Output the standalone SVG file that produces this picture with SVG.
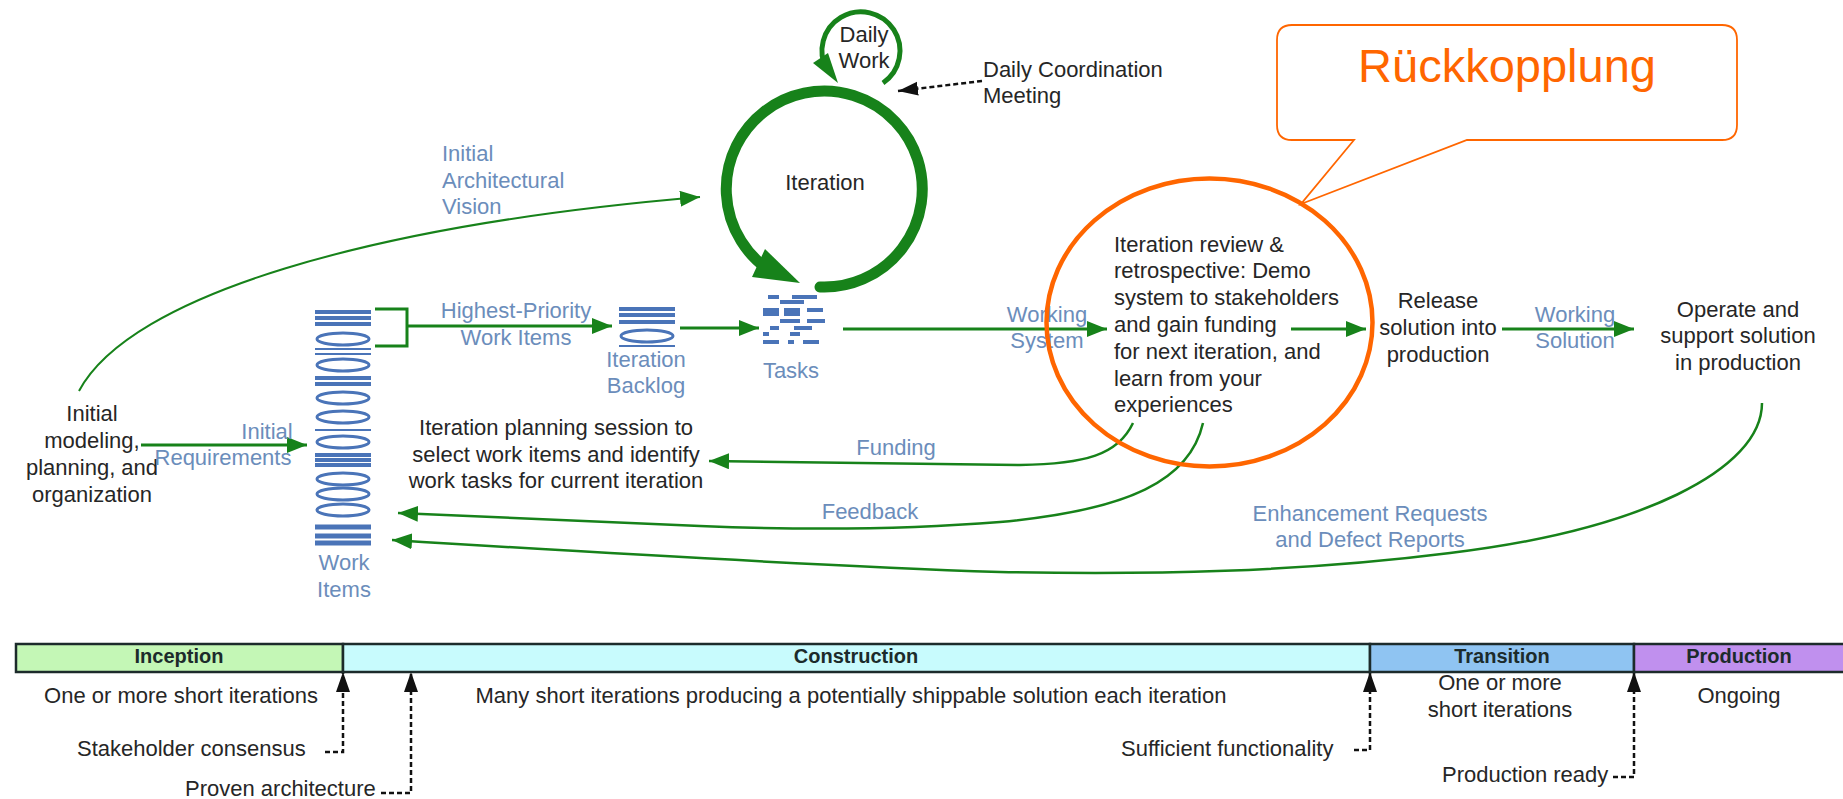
<svg xmlns="http://www.w3.org/2000/svg" width="1843" height="799" viewBox="0 0 1843 799">
<style>
text{font-family:"Liberation Sans",Arial,sans-serif;font-size:22px;fill:#262626}
.b{fill:#6b8dbb}
.m{text-anchor:middle}
.g{fill:none;stroke:#17821a;stroke-width:3}
.t{fill:none;stroke:#17821a;stroke-width:2}
.d{fill:none;stroke:#111;stroke-width:2.5;stroke-dasharray:5 3}
.bar{fill:none;stroke:#4a74b8;stroke-width:4}
.bart{fill:none;stroke:#4a74b8;stroke-width:2}
.el{fill:none;stroke:#4a74b8;stroke-width:3}
.ph{stroke:#1c2b2b;stroke-width:2.5}
.ph-l{font-weight:bold;font-size:20px;text-anchor:middle;fill:#1c2b2b}
</style>
<defs>
<marker id="ag" markerUnits="userSpaceOnUse" markerWidth="20" markerHeight="16" refX="20" refY="8" orient="auto"><path d="M0 0L20 8L0 16Z" fill="#17821a"/></marker>
<marker id="ak" markerUnits="userSpaceOnUse" markerWidth="20" markerHeight="16" refX="20" refY="8" orient="auto"><path d="M0 1L20 8L0 15Z" fill="#111"/></marker>
</defs>
<rect width="1843" height="799" fill="#fff"/>

<g id="connectors">
<path class="t" marker-end="url(#ag)" d="M79 391C130 295 370 225 700 197"/>
<path class="g" marker-end="url(#ag)" d="M141 445H307"/>
<path class="t" style="stroke-width:3" d="M375 309H407V346H375"/>
<path class="g" marker-end="url(#ag)" d="M407 326H612"/>
<path class="g" marker-end="url(#ag)" d="M680 328H759"/>
<path class="g" marker-end="url(#ag)" d="M843 329H1107"/>
<path class="g" marker-end="url(#ag)" d="M1291 329H1366"/>
<path class="g" marker-end="url(#ag)" d="M1502 329H1634"/>
<path class="t" style="stroke-width:2.5" marker-end="url(#ag)" d="M1133 423C1118 455 1085 464 1020 465L709 461"/>
<path class="t" style="stroke-width:2.5" marker-end="url(#ag)" d="M1203 423C1190 480 1130 510 1000 522C900 530 800 530 700 526L398 513"/>
<path class="t" style="stroke-width:2.5" marker-end="url(#ag)" d="M1762 403C1762 470 1640 530 1450 553C1300 572 1150 575 1000 572C800 565 600 553 392 540"/>
<path d="M820 287A98 98 0 1 0 772 272" fill="none" stroke="#17821a" stroke-width="11" stroke-linecap="round"/>
<path d="M752 277L765 249L800 283Z" fill="#17821a"/>
<path d="M883 83A39 39 0 1 0 827 70" fill="none" stroke="#17821a" stroke-width="5"/>
<path d="M813 63L828 53L838 83Z" fill="#17821a"/>
<path class="d" marker-end="url(#ak)" d="M982 81L898 91"/>
<path class="d" marker-end="url(#ak)" d="M325 752H343V672"/>
<path class="d" marker-end="url(#ak)" d="M381 793H411V672"/>
<path class="d" marker-end="url(#ak)" d="M1354 750H1370V672"/>
<path class="d" marker-end="url(#ak)" d="M1613 777H1634V672"/>
</g>

<g id="work-items">
<path class="bar" d="M315 312H371M315 318H371M315 324H371M315 378H371M315 384H371M315 455H371M315 460H371M315 465H371"/>
<path class="bart" d="M315 349H371M315 354H371M315 430H371"/>
<path class="bar" style="stroke-width:5" d="M315 527H371M315 536H371M315 543H371"/>
<ellipse class="el" cx="343" cy="339" rx="26" ry="6"/><ellipse class="el" cx="343" cy="365" rx="26" ry="6"/>
<ellipse class="el" cx="343" cy="398" rx="26" ry="6"/><ellipse class="el" cx="343" cy="417" rx="26" ry="6"/>
<ellipse class="el" cx="343" cy="442" rx="26" ry="6"/><ellipse class="el" cx="343" cy="479" rx="26" ry="6"/>
<ellipse class="el" cx="343" cy="494" rx="26" ry="6"/><ellipse class="el" cx="343" cy="510" rx="26" ry="6"/>
<text class="b m" x="344" y="570">Work</text><text class="b m" x="344" y="597">Items</text>
</g>

<g id="iteration-backlog">
<path class="bar" d="M619 309H675M619 315H675M619 322H675"/>
<ellipse class="el" cx="647" cy="336" rx="26" ry="6"/>
<path class="bart" d="M619 346H675"/>
<text class="b m" x="646" y="367">Iteration</text><text class="b m" x="646" y="393">Backlog</text>
</g>

<g id="tasks">
<path class="bar" d="M768 297H779M792 297H817M780 302H804M763 310H779M784 310H800M807 310H823M763 314H779M784 314H800M780 321H800M807 321H825M770 328H779M794 328H812M763 334H769M790 334H800M763 342H779M788 342H794M803 342H819"/>
<text class="b m" x="791" y="378">Tasks</text>
</g>

<g id="iteration"><text class="m" x="825" y="190">Iteration</text></g>
<g id="daily-work"><text class="m" x="864" y="42">Daily</text><text class="m" x="864" y="68">Work</text></g>
<g id="daily-meeting"><text x="983" y="77">Daily Coordination</text><text x="983" y="103">Meeting</text></g>
<g id="initial-vision"><text class="b" x="442" y="161">Initial</text><text class="b" x="442" y="188">Architectural</text><text class="b" x="442" y="214">Vision</text></g>
<g id="initial-modeling"><text class="m" x="92" y="421">Initial</text><text class="m" x="92" y="448">modeling,</text><text class="m" x="92" y="475">planning, and</text><text class="m" x="92" y="502">organization</text></g>
<g id="initial-req"><text class="b m" x="267" y="439">Initial</text><text class="b m" x="223" y="465">Requirements</text></g>
<g id="highest"><text class="b m" x="516" y="318">Highest-Priority</text><text class="b m" x="516" y="345">Work Items</text></g>
<g id="planning"><text class="m" x="556" y="435">Iteration planning session to</text><text class="m" x="556" y="462">select work items and identify</text><text class="m" x="556" y="488">work tasks for current iteration</text></g>
<g id="funding"><text class="b m" x="896" y="455">Funding</text></g>
<g id="feedback"><text class="b m" x="870" y="519">Feedback</text></g>
<g id="enhancement"><text class="b m" x="1370" y="521">Enhancement Requests</text><text class="b m" x="1370" y="547">and Defect Reports</text></g>
<g id="working-system"><text class="b m" x="1047" y="322">Working</text><text class="b m" x="1047" y="348">System</text></g>
<g id="review"><text x="1114" y="252">Iteration review &amp;</text><text x="1114" y="278">retrospective: Demo</text><text x="1114" y="305">system to stakeholders</text><text x="1114" y="332">and gain funding</text><text x="1114" y="359">for next iteration, and</text><text x="1114" y="386">learn from your</text><text x="1114" y="412">experiences</text></g>
<g id="release"><text class="m" x="1438" y="308">Release</text><text class="m" x="1438" y="335">solution into</text><text class="m" x="1438" y="362">production</text></g>
<g id="working-solution"><text class="b m" x="1575" y="322">Working</text><text class="b m" x="1575" y="348">Solution</text></g>
<g id="operate"><text class="m" x="1738" y="317">Operate and</text><text class="m" x="1738" y="343">support solution</text><text class="m" x="1738" y="370">in production</text></g>

<g id="highlight"><ellipse cx="1209.5" cy="322.5" rx="163" ry="144" fill="none" stroke="#ff6600" stroke-width="4.5"/></g>
<g id="callout">
<path d="M1292 25H1722Q1737 25 1737 40V125Q1737 140 1722 140H1467L1301 204L1354 140H1292Q1277 140 1277 125V40Q1277 25 1292 25Z" fill="#fff" stroke="#ff6600" stroke-width="1.8"/>
<text class="m" x="1507" y="82" style="font-size:47px;fill:#ff6600">Rückkopplung</text>
</g>

<g id="inception"><rect class="ph" x="16" y="644" width="327" height="28" fill="#c4f7b6"/><text class="ph-l" x="179" y="663">Inception</text><text class="m" x="181" y="703">One or more short iterations</text></g>
<g id="construction"><rect class="ph" x="343" y="644" width="1027" height="28" fill="#c8fbfd"/><text class="ph-l" x="856" y="663">Construction</text><text class="m" x="851" y="703">Many short iterations producing a potentially shippable solution each iteration</text></g>
<g id="transition"><rect class="ph" x="1370" y="644" width="264" height="28" fill="#8fc4f2"/><text class="ph-l" x="1502" y="663">Transition</text><text class="m" x="1500" y="690">One or more</text><text class="m" x="1500" y="717">short iterations</text></g>
<g id="production"><rect class="ph" x="1634" y="644" width="212" height="28" fill="#c090ee"/><text class="ph-l" x="1739" y="663">Production</text><text class="m" x="1739" y="703">Ongoing</text></g>
<g id="milestones"><text x="77" y="756">Stakeholder consensus</text><text x="185" y="796">Proven architecture</text><text x="1121" y="756">Sufficient functionality</text><text x="1442" y="782">Production ready</text></g>
</svg>
